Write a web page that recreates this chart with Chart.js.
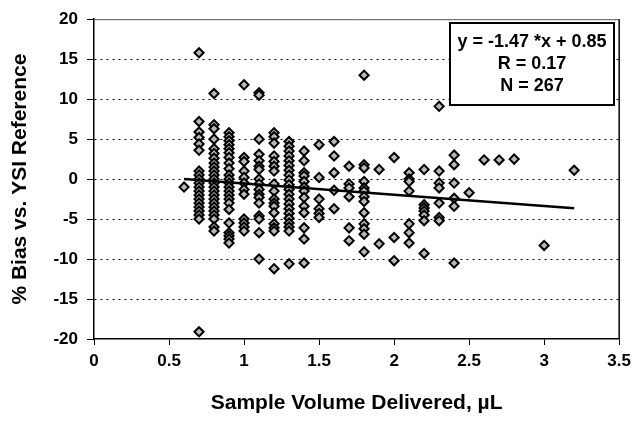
<!DOCTYPE html>
<html>
<head>
<meta charset="utf-8">
<script src="https://cdn.jsdelivr.net/npm/chart.js@4.4.1/dist/chart.umd.min.js"></script>
<style>
  html, body { margin: 0; padding: 0; background: #fff; }
  #wrap { width: 637px; height: 422px; }
</style>
</head>
<body>
<div id="wrap"><canvas id="biasChart" width="637" height="422"></canvas></div>
<script>
// sample volumes (uL) and the % bias readings found at each volume
const volumes = [0.6, 0.7, 0.8, 0.9, 1.0, 1.1, 1.2, 1.3, 1.4, 1.5, 1.6, 1.7, 1.8, 1.9, 2.0, 2.1, 2.2, 2.3, 2.4, 2.5, 2.6, 2.7, 2.8, 3.0, 3.2];
const biasByVolume = [
  [-1.0],
  [15.8, 7.2, 5.9, 5.2, 4.4, 3.6, 1.0, 0.5, 0.0, -0.5, -1.0, -1.5, -2.0, -2.5, -3.0, -3.5, -4.0, -4.5, -5.0, -19.1],
  [10.7, 6.8, 6.3, 5.0, 3.8, 3.2, 2.6, 2.0, 1.5, 1.0, 0.5, 0.0, -0.5, -1.0, -1.5, -2.0, -2.5, -3.0, -3.5, -4.0, -4.5, -5.0, -6.0, -6.5],
  [5.8, 5.3, 4.8, 4.3, 3.8, 3.3, 2.7, 2.0, 1.3, 0.5, 0.0, -0.5, -1.0, -1.5, -2.0, -2.5, -3.0, -3.8, -5.5, -6.7, -7.1, -7.5, -8.0],
  [11.8, 2.7, 2.2, 1.0, 0.2, -0.5, -1.3, -1.9, -5.0, -5.5, -6.0, -6.5],
  [10.8, 10.5, 5.0, 3.1, 2.3, 1.6, 1.2, 0.0, -0.6, -1.3, -1.9, -2.3, -3.0, -4.6, -5.0, -6.7, -10.0],
  [5.8, 5.3, 4.5, 2.9, 2.2, 1.6, 1.0, -0.6, -1.5, -2.5, -3.0, -3.4, -4.2, -5.6, -6.1, -6.5, -11.2],
  [4.7, 4.1, 3.5, 2.9, 2.3, 1.7, 1.1, 0.5, -0.1, -0.7, -1.3, -1.9, -2.5, -3.1, -3.7, -4.3, -4.9, -5.5, -6.0, -6.5, -10.6],
  [3.5, 2.3, 0.8, 0.4, -0.3, -1.0, -1.5, -2.3, -3.4, -4.2, -6.1, -7.5, -10.5],
  [4.3, 0.2, -2.5, -3.7, -4.3, -4.8],
  [4.7, 2.9, 0.8, -1.4, -3.7],
  [1.6, -0.6, -1.1, -2.2, -6.1, -7.7],
  [13.0, 1.8, 1.4, -0.3, -1.1, -1.5, -2.2, -2.8, -4.2, -5.6, -6.2, -6.9, -9.1],
  [1.2, -8.1],
  [2.7, -7.3, -10.2],
  [0.8, 0.0, -0.3, -1.5, -5.6, -6.7, -8.0],
  [1.2, -3.2, -3.6, -4.0, -4.5, -5.2, -9.3],
  [9.1, 1.0, -0.5, -1.1, -3.0, -4.8, -5.2],
  [3.0, 1.8, -0.5, -2.4, -3.4, -10.5],
  [-1.7],
  [2.4],
  [2.4],
  [2.5],
  [-8.3],
  [1.1]
];

// regression line as drawn (end points)
const trendX = [0.6, 3.2];
const trendY = [0.0, -3.65];

const statLines = ["y = -1.47 *x + 0.85", "R = 0.17", "N = 267"];

const xTitle = "Sample Volume Delivered, \u00b5L";
const yTitle = "% Bias vs. YSI Reference";

const FONT = "'Liberation Sans', Arial, Helvetica, sans-serif";

let points = [];
volumes.forEach(function(v, i) {
  biasByVolume[i].forEach(function(b) { points.push({x: v, y: b}); });
});
let trendPts = trendX.map(function(x, i) { return {x: x, y: trendY[i]}; });

// frame + stats box
const extras = {
  id: "extras",
  afterDraw(chart) {
    const ctx = chart.ctx;
    const a = chart.chartArea;
    ctx.save();
    ctx.strokeStyle = "#555";
    ctx.lineWidth = 1;
    ctx.beginPath();
    ctx.moveTo(a.left, a.top + 0.5);
    ctx.lineTo(a.right, a.top + 0.5);
    ctx.stroke();
    ctx.strokeStyle = "#000";
    ctx.lineWidth = 1.5;
    ctx.beginPath();
    ctx.moveTo(a.right, a.top);
    ctx.lineTo(a.right, a.bottom);
    ctx.stroke();

    // stats box
    const bx = 450, by = 23, bw = 164, bh = 82;
    ctx.fillStyle = "#fff";
    ctx.fillRect(bx, by, bw, bh);
    ctx.lineWidth = 2;
    ctx.strokeStyle = "#000";
    ctx.strokeRect(bx, by, bw, bh);
    ctx.fillStyle = "#000";
    ctx.font = "bold 18px " + FONT;
    ctx.textAlign = "center";
    ctx.textBaseline = "middle";
    statLines.forEach(function(t, i) {
      ctx.fillText(t, bx + bw / 2, by + 19 + i * 22);
    });
    ctx.restore();
  }
};

new Chart(document.getElementById("biasChart"), {
  type: "scatter",
  data: {
    datasets: [{
      type: "line",
      data: trendPts,
      borderColor: "#000",
      borderWidth: 2.5,
      pointRadius: 0,
      fill: false
    }, {
      data: points,
      pointStyle: "rectRot",
      pointRadius: 4.6,
      backgroundColor: "#b8b8b8",
      borderColor: "#000",
      borderWidth: 2
    }]
  },
  options: {
    responsive: false,
    animation: false,
    layout: { padding: { top: 18, right: 15, left: 0, bottom: 0 } },
    plugins: { legend: { display: false }, tooltip: { enabled: false } },
    scales: {
      x: {
        min: 0, max: 3.5,
        afterFit(scale) { scale.height = 83; },
        ticks: {
          stepSize: 0.5,
          padding: 6,
          color: "#000",
          font: { family: FONT, size: 17, weight: "bold" },
          callback: function(v) { return String(Math.round(v * 10) / 10); }
        },
        grid: { drawOnChartArea: false, tickLength: 6, tickColor: "#000", tickWidth: 1 },
        border: { color: "#000", width: 1.5 },
        title: {
          display: true,
          text: xTitle,
          color: "#000",
          font: { family: FONT, size: 21, weight: "bold" },
          padding: { top: 0, bottom: 6 }
        }
      },
      y: {
        min: -20, max: 20,
        afterFit(scale) { scale.width = 94; },
        ticks: {
          stepSize: 5,
          padding: 9,
          color: "#000",
          font: { family: FONT, size: 17, weight: "bold" }
        },
        grid: {
          tickLength: 7,
          tickColor: "#000",
          tickWidth: 1,
          lineWidth: 1,
          color: function(c) {
            if (c.tick && (c.tick.value === 20 || c.tick.value === -20)) return "rgba(0,0,0,0)";
            return "#000";
          }
        },
        border: { color: "#000", width: 1.5, dash: [2, 4] },
        title: {
          display: true,
          text: yTitle,
          color: "#000",
          font: { family: FONT, size: 21, weight: "bold" },
          padding: { top: 8, bottom: 0 }
        }
      }
    }
  },
  plugins: [extras]
});
</script>
</body>
</html>
